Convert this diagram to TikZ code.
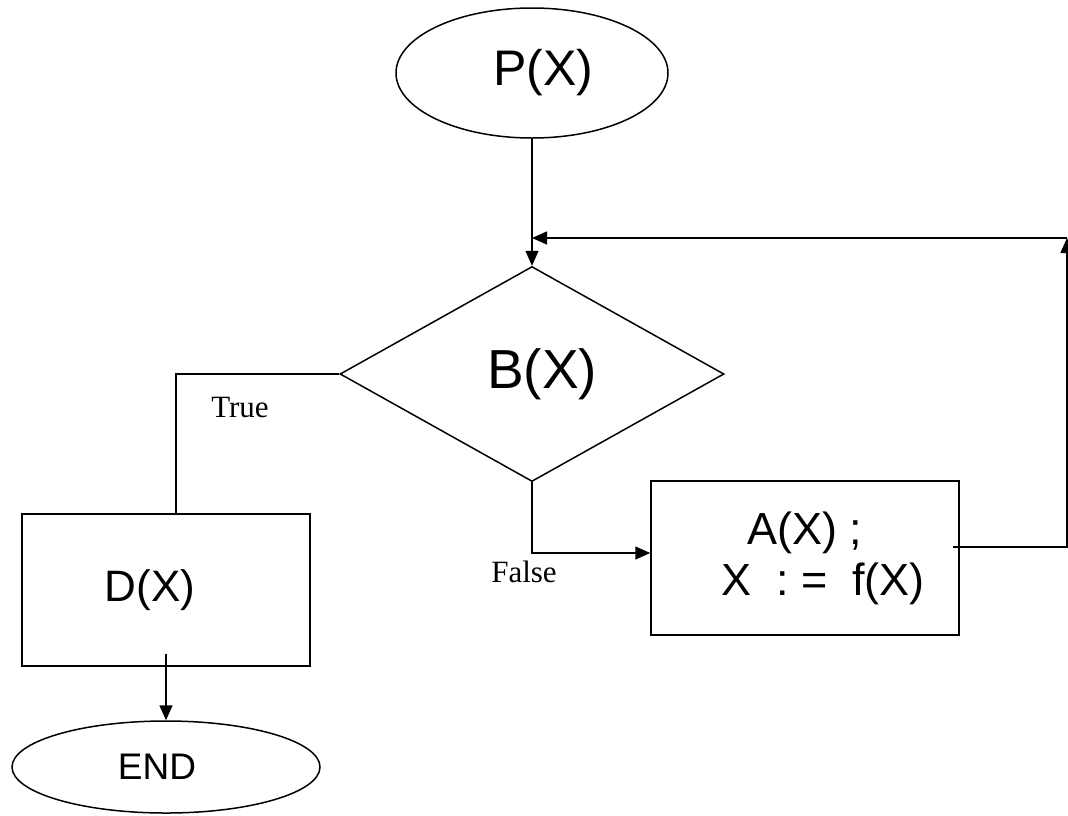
\documentclass[tikz,border=0pt]{standalone}
\usepackage{fontspec}
\setmainfont{Liberation Sans}
\newfontfamily\labelfont{Liberation Serif}
\usetikzlibrary{shapes.geometric,arrows.meta}

\begin{document}
\begin{tikzpicture}[x=1pt,y=-1pt,
    line width=1.5pt, >={Triangle[length=15pt,width=13pt]},
    terminal/.style={draw, ellipse, minimum width=272pt, minimum height=130pt, inner sep=0pt},
    decision/.style={draw, diamond, minimum width=384pt, minimum height=215pt, inner sep=0pt,
      font=\fontsize{55}{60}\selectfont},
    process/.style={draw, rectangle, minimum width=308pt, minimum height=154pt, align=center},
    branch/.style={anchor=base, font=\labelfont\fontsize{31}{36}\selectfont}]
  \useasboundingbox (0,0) rectangle (1068,815);

  % Start and test
  \node[terminal, font=\fontsize{50}{54}\selectfont] (start) at (532,73) {\hspace*{22pt}P(X)};
  \node[decision] (test) at (532,374) {\hspace*{20pt}B(X)};

  % Loop body and exit
  \node[process, font=\fontsize{45}{51}\selectfont] (body) at (805,558)
    {A(X) ;\\ \hspace*{36pt}X\ \ :\ =\ \ f(X)};
  \node[process, minimum width=288pt, minimum height=152pt,
    font=\fontsize{44}{50}\selectfont] (exit) at (166,590) {D(X)\hspace*{32pt}};
  \node[terminal, minimum width=308pt, minimum height=92pt,
    font=\fontsize{37}{42}\selectfont] (finish) at (166,767) {END\hspace*{18pt}};

  % Branch labels
  \node[branch] (truelbl) at (240,417) {True};
  \node[branch] (falselbl) at (524,582) {False};

  % Connectors
  \draw[->] (start.south) -- (test.north);
  \draw (test.west) -| ([xshift=10pt]exit.north);
  \draw[->] (test.south) |- ([yshift=5pt]body.west);
  \draw[->] ([yshift=13pt]exit.south) -- (finish.north);

  % Back edge of the loop
  \coordinate (corner) at (1067,238);
  \coordinate (join) at (532,238);
  \draw[->] ([xshift=-7pt,yshift=11pt]body.east) -| (corner);
  \draw[->] (corner) -- (join);
\end{tikzpicture}
\end{document}
